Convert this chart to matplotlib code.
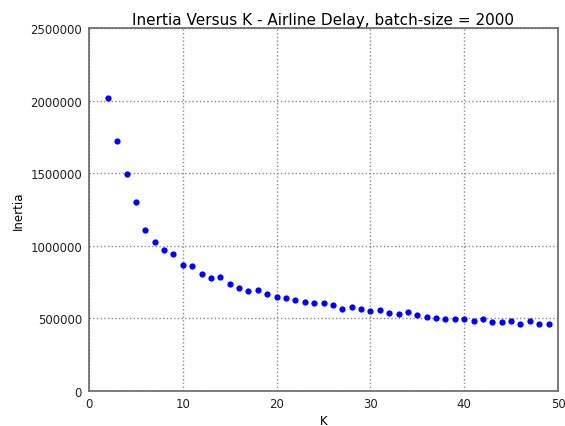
import matplotlib
matplotlib.use("Agg")
import matplotlib.pyplot as plt

k_values = list(range(2, 50))
inertia = [2018000, 1721000, 1492000, 1303000, 1106000, 1023000, 970000, 945000,
           871000, 859000, 809000, 781000, 788000, 735000, 712000, 692000, 699000,
           666000, 650000, 641000, 625000, 614000, 604000, 604000, 589000, 568000,
           579000, 563000, 552000, 556000, 535000, 531000, 542000, 521000, 510000,
           503000, 499000, 499000, 499000, 485000, 499000, 478000, 473000, 480000,
           464000, 480000, 464000, 459000]

title = "Inertia Versus K - Airline Delay, batch-size = 2000"
x_ticks = [0, 10, 20, 30, 40, 50]
y_ticks = [0, 500000, 1000000, 1500000, 2000000, 2500000]

fig = plt.figure(figsize=(5.65, 4.27), dpi=100)
ax = fig.add_axes([89/565, 35/427, 469/565, 363/427])
ax.plot(k_values, inertia, linestyle="none", marker="o", markersize=4.5,
        color="#0000ff", markeredgewidth=0)
ax.set_xlim(0, 50)
ax.set_ylim(0, 2500000)
ax.set_xticks(x_ticks)
ax.set_yticks(y_ticks)
ax.set_yticklabels([str(v) for v in y_ticks])
ax.set_xticklabels([str(v) for v in x_ticks])
ax.grid(True, linestyle=":", color="#888888", linewidth=1)
for s in ax.spines.values():
    s.set_color("#666666")
    s.set_linewidth(1.2)
ax.tick_params(axis="y", length=0, labelsize=8.5, pad=5, colors="#222222")
ax.tick_params(axis="x", length=0, labelsize=8.5, pad=4, colors="#222222")
ax.set_xlabel("K", fontsize=8.5, labelpad=3)
ax.set_ylabel("Inertia", fontsize=8.5, labelpad=4)
ax.set_title(title, fontsize=11, pad=3)
fig.savefig("out.png", dpi=100)
